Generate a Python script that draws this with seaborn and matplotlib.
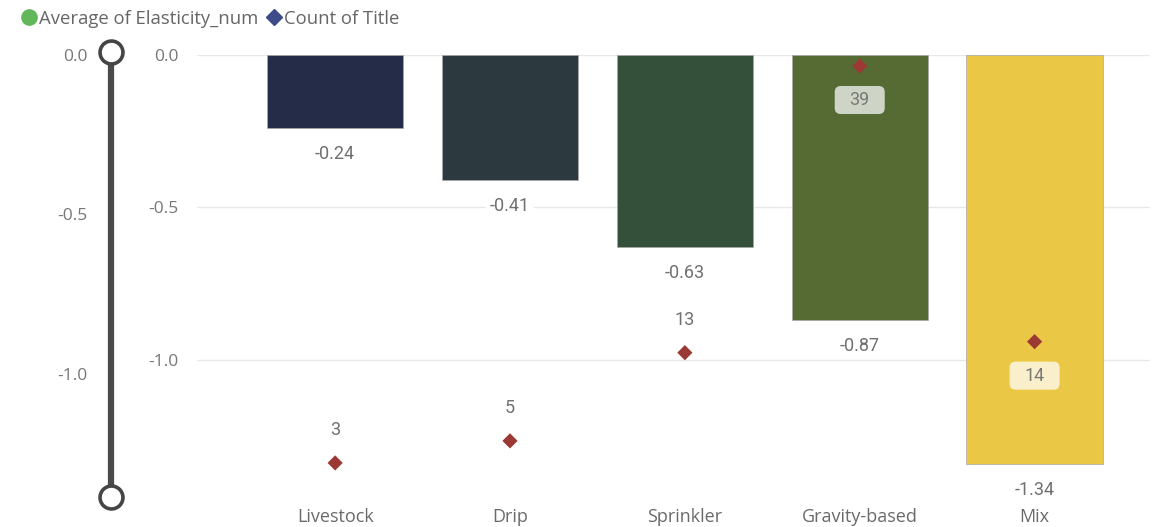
import numpy as np
import pandas as pd
import seaborn as sns
import matplotlib.pyplot as plt
from matplotlib.lines import Line2D
from matplotlib.patches import FancyBboxPatch
from matplotlib.transforms import IdentityTransform

# ---- data ----
categories = ["Livestock", "Drip", "Sprinkler", "Gravity-based", "Mix"]
elasticity = [-0.24, -0.41, -0.63, -0.87, -1.34]
title_counts = [3, 5, 13, 39, 14]
bar_colors = ["#252C48", "#2C3A40", "#34503A", "#566B34", "#EBC746"]
y_ticks = [0.0, -0.5, -1.0]
y_tick_labels = ["0.0", "-0.5", "-1.0"]
legend_labels = ["Average of Elasticity_num", "Count of Title"]

sns.set_theme(style="white")
plt.rcParams["font.family"] = ["Open Sans", "DejaVu Sans"]

W, H = 1153, 527
fig = plt.figure(figsize=(W / 100, H / 100), dpi=100)

GRAY_TXT = "#777777"
VALUE_FONT = ["Roboto", "DejaVu Sans"]
VALUE_SIZE = 13

# ---- main combo chart ----
ax = fig.add_axes([197 / W, 1 - 496 / H, (1150 - 197) / W, (496 - 55) / H])
df = pd.DataFrame({"Category": categories, "Elasticity": elasticity, "Count": title_counts})
sns.barplot(data=df, x="Category", y="Elasticity", hue="Category", palette=bar_colors,
            legend=False, width=0.78, saturation=1, ax=ax,
            edgecolor="#a8a8a8", linewidth=0.5)

y_min = -1.446
ax.set_xlim(-0.79, 4.66)
ax.set_ylim(y_min, 0)
ax.set_yticks(y_ticks)
ax.set_yticklabels(y_tick_labels)
ax.grid(axis="y", color="#E8E8E8", lw=1)
ax.grid(axis="x", visible=False)
ax.set_axisbelow(True)
for s in ax.spines.values():
    s.set_visible(False)
ax.tick_params(axis="y", length=0, pad=13.5, labelcolor=GRAY_TXT, labelsize=12.5)
ax.tick_params(axis="x", length=0, pad=8.5, labelcolor="#6a6a6a", labelsize=13)
ax.set_xlabel("")
ax.set_ylabel("")

# value labels under each bar end
for i, v in enumerate(elasticity):
    ax.annotate(f"{v:.2f}", (i, v), xytext=(0, -26), textcoords="offset pixels",
                ha="center", va="center", fontsize=VALUE_SIZE, color="#707070",
                family=VALUE_FONT, annotation_clip=False, zorder=4,
                bbox=dict(boxstyle="square,pad=0.2", fc="white", ec="none"))

# count of titles on a secondary axis
ax2 = ax.twinx()
positions = np.arange(len(categories))
sns.scatterplot(x=positions, y=title_counts, marker="D", color="#9B3A34", s=60,
                edgecolor="none", ax=ax2, zorder=5)
count_max = 40
ax2.set_ylim(0, count_max)
ax2.set_xlim(-0.79, 4.66)
ax2.set_yticks([])
ax2.set_ylabel("")
for s in ax2.spines.values():
    s.set_visible(False)

fig.canvas.draw()
for i, c in enumerate(title_counts):
    # equivalent position on the elasticity scale, to see if it sits inside the bar
    c_primary = y_min + c / count_max * (0 - y_min)
    px, py = ax2.transData.transform((i, c))
    if c_primary > elasticity[i]:
        cy = py - 34
        box = FancyBboxPatch((px - 25, cy - 14), 50, 28,
                             boxstyle="round,pad=0,rounding_size=6",
                             fc="white", alpha=0.72, ec="none",
                             transform=IdentityTransform(), zorder=5)
        fig.add_artist(box)
        fig.text(px, cy, str(c), transform=IdentityTransform(), ha="center", va="center",
                 fontsize=VALUE_SIZE, color="#787878", family=VALUE_FONT, zorder=6)
    else:
        ax2.annotate(str(c), (i, c), xytext=(0, 33), textcoords="offset pixels",
                     ha="center", va="center", fontsize=VALUE_SIZE, color="#707070",
                     family=VALUE_FONT, annotation_clip=False)

# ---- range slider on the left ----
sax = fig.add_axes([100 / W, 1 - 497 / H, 22 / W, (497 - 52) / H])
s_lo, s_hi = -1.386, 0.0094
sax.set_ylim(s_lo, s_hi)
sax.set_xlim(-1, 1)
sax.plot([0, 0], [s_lo, s_hi], color="#4a4a4a", lw=4.5, solid_capstyle="butt", zorder=1)
sax.plot([0, 0], [s_lo, s_hi], ls="", marker="o", ms=16.5, mfc="white", mec="#454545",
         mew=2.6, zorder=3, clip_on=False)
sax.set_yticks(y_ticks)
sax.set_yticklabels(y_tick_labels)
sax.set_xticks([])
sax.tick_params(axis="y", length=0, pad=9, labelcolor=GRAY_TXT, labelsize=12.5)
for s in sax.spines.values():
    s.set_visible(False)
sax.patch.set_alpha(0)

# ---- legend ----
handles = [Line2D([], [], ls="", marker="o", ms=11, color="#62B75A"),
           Line2D([], [], ls="", marker="D", ms=8, color="#3D4B88")]
fig.legend(handles, legend_labels, loc="upper left", bbox_to_anchor=(9 / W, 1.003),
           ncol=2, frameon=False, handletextpad=0.05, columnspacing=0.3,
           handlelength=1.0, fontsize=13.3, labelcolor="#666666", borderpad=0.1)

fig.savefig("out.png", dpi=100)
